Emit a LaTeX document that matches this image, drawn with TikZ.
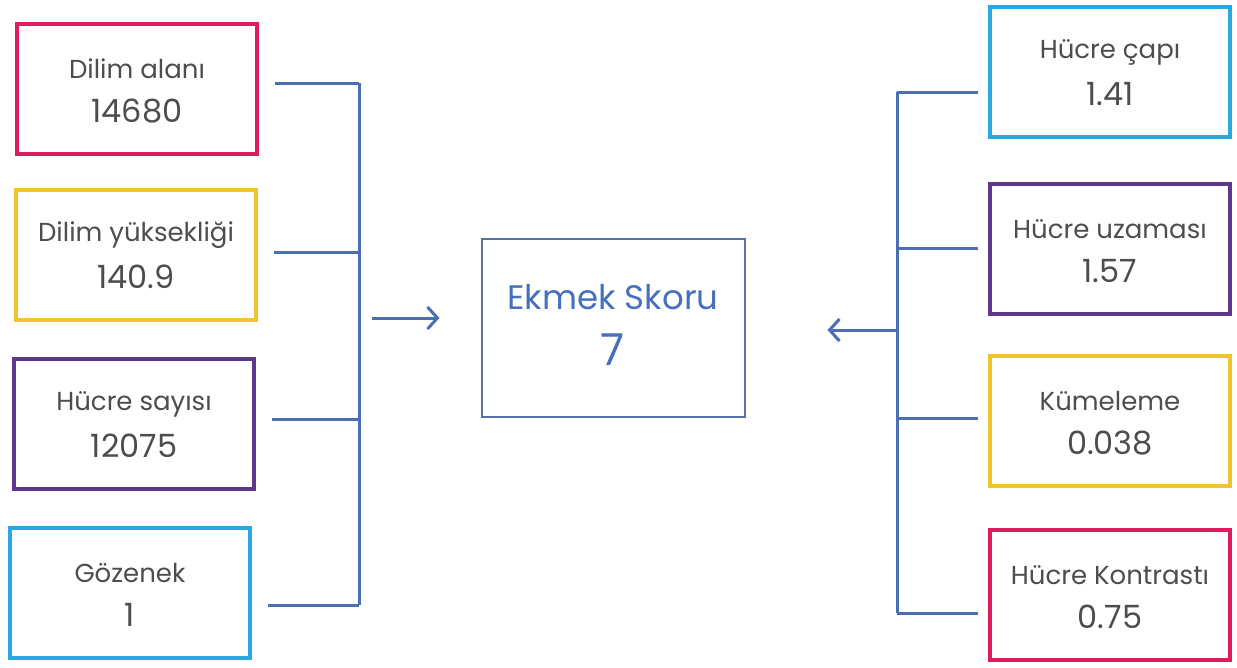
\documentclass[tikz,border=0pt]{standalone}
\usepackage{fontspec}
\setmainfont{Poppins}
\usetikzlibrary{arrows.meta,positioning}

\definecolor{pembe}{RGB}{220,30,95}
\definecolor{sari}{RGB}{240,195,45}
\definecolor{mor}{RGB}{95,55,140}
\definecolor{mavi}{RGB}{40,170,225}
\definecolor{hat}{RGB}{75,110,180}
\definecolor{skorrenk}{RGB}{70,112,190}
\definecolor{yazi}{RGB}{77,77,77}

\tikzset{
  kart/.style={draw=#1,line width=4pt,fill=white,minimum width=240pt,minimum height=130pt},
  baslik/.style={text=yazi,font=\fontsize{26}{29}\selectfont},
  deger/.style={text=yazi,font=\fontsize{32}{35}\selectfont},
  bag/.style={draw=hat,line width=3pt},
  ok/.style={bag,-{Straight Barb[length=10pt,width=22pt,line width=3pt]}}
}

\begin{document}
\begin{tikzpicture}[x=1pt,y=-1pt]
  \useasboundingbox (0,0) rectangle (1237,667);

  % kartlar
  \foreach \n/\x/\y/\c/\t/\v in {alan/137/89/pembe/Dilim alanı/14680,
      yuk/136/255/sari/Dilim yüksekliği/140.9,
      sayi/134/424/mor/Hücre sayısı/12075,
      goz/130/593/mavi/Gözenek/1,
      cap/1110/72/mavi/Hücre çapı/1.41,
      uzam/1110/249/mor/Hücre uzaması/1.57,
      kume/1110/421/sari/Kümeleme/0.038,
      kont/1110/595/pembe/Hücre Kontrastı/0.75}
  {
    \node[kart=\c] (\n) at (\x,\y) {};
    \node[baslik] (\n-b) at ([yshift=20]\n.center) {\t};
    \node[deger] (\n-d) at ([yshift=-22]\n.center) {\v};
  }

  % orta kutu
  \node[draw=hat!80!gray,line width=2pt,minimum width=263pt,minimum height=178pt] (skor) at (613,328) {};
  \node[text=skorrenk,font=\fontsize{34}{37}\selectfont] (skor-b) at ([yshift=31]skor.center) {Ekmek Skoru};
  \node[text=skorrenk,font=\fontsize{44}{47}\selectfont] (skor-d) at ([yshift=-22]skor.center) {7};

  % sol ayrac
  \coordinate (s1) at (359,83);
  \coordinate (s2) at (359,252);
  \coordinate (s3) at (359,419);
  \coordinate (s4) at (359,605);
  \foreach \n/\k in {alan/s1,yuk/s2,sayi/s3,goz/s4}
    \path[bag] ([xshift=16]\n.east |- \k) -- (\k);
  \path[bag] (s1) -- (s4);
  \coordinate (sol) at (372,318);
  \path[ok] (sol) -- ([xshift=-41]skor.west |- sol);

  % sag ayrac
  \coordinate (r1) at (897,92);
  \coordinate (r2) at (897,248);
  \coordinate (r3) at (897,418);
  \coordinate (r4) at (897,613);
  \foreach \n/\k in {cap/r1,uzam/r2,kume/r3,kont/r4}
    \path[bag] ([xshift=-10]\n.west |- \k) -- (\k);
  \path[bag] (r1) -- (r4);
  \coordinate (sag) at (897,330);
  \path[ok] (sag) -- ([xshift=82]skor.east |- sag);

\end{tikzpicture}
\end{document}
